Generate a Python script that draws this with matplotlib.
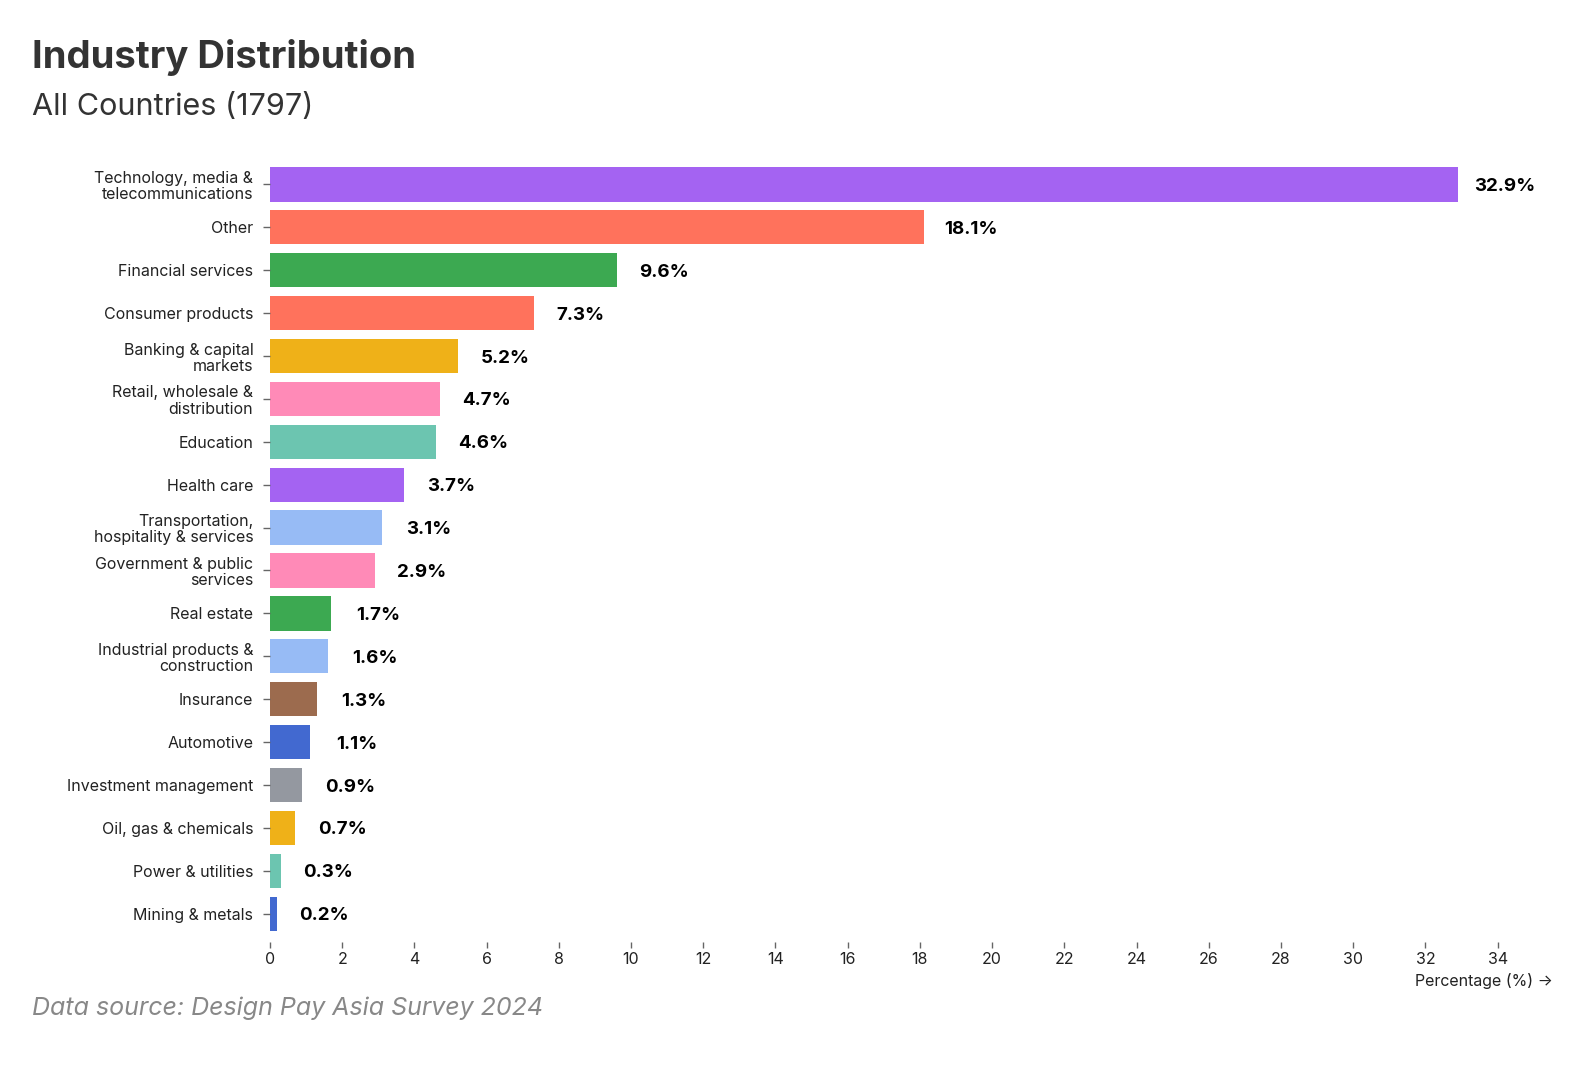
import matplotlib.pyplot as plt
from matplotlib.ticker import MultipleLocator

plt.rcParams['font.family'] = ['Inter', 'DejaVu Sans']

# data
industries = [
    'Technology, media &\ntelecommunications', 'Other', 'Financial services',
    'Consumer products', 'Banking & capital\nmarkets', 'Retail, wholesale &\ndistribution',
    'Education', 'Health care', 'Transportation,\nhospitality & services',
    'Government & public\nservices', 'Real estate', 'Industrial products &\nconstruction',
    'Insurance', 'Automotive', 'Investment management', 'Oil, gas & chemicals',
    'Power & utilities', 'Mining & metals',
]
percentages = [32.9, 18.1, 9.6, 7.3, 5.2, 4.7, 4.6, 3.7, 3.1, 2.9, 1.7, 1.6, 1.3, 1.1, 0.9, 0.7, 0.3, 0.2]
bar_colors = ['#a463f2', '#ff725c', '#3ca951', '#ff725c', '#efb118', '#ff8ab7',
              '#6cc5b0', '#a463f2', '#97bbf5', '#ff8ab7', '#3ca951', '#97bbf5',
              '#9c6b4e', '#4269d0', '#9498a0', '#efb118', '#6cc5b0', '#4269d0']

fig = plt.figure(figsize=(15.9, 10.84), dpi=100)
ax = fig.add_axes([0.1698, 0.131, 0.8069, 0.725])

pos = list(range(len(industries)))
ax.barh(pos, percentages, height=0.8, color=bar_colors)

# value labels
for y, v in zip(pos, percentages):
    ax.annotate(f'{v}%', xy=(v, y), xytext=(34, -1.5), textcoords='offset points',
                ha='center', va='center', fontsize=13.5, fontweight='bold', color='black')

ax.set_yticks(pos)
ax.set_yticklabels(industries, fontsize=11.5, color='#222222', linespacing=1.1)
ax.set_ylim(len(industries) - 1 + 0.66, -0.66)
ax.set_xlim(0, 32.9 * 1.08)
ax.xaxis.set_major_locator(MultipleLocator(2))

for s in ax.spines.values():
    s.set_visible(False)
ax.tick_params(axis='y', length=5, width=1, color='#666666', pad=7)
ax.tick_params(axis='x', length=4, width=1, color='#666666', pad=3, labelsize=11.5, labelcolor='#222222')

ax.text(1.0, -0.05, 'Percentage (%) →', transform=ax.transAxes, ha='right', va='center',
        fontsize=11.5, color='#222222')

fig.text(32 / 1590, 1 - 58 / 1084, 'Industry Distribution', fontsize=27.5, fontweight='bold',
         color='#333333', ha='left', va='center')
fig.text(32 / 1590, 1 - 107 / 1084, 'All Countries (1797)', fontsize=22,
         color='#333333', ha='left', va='center')
fig.text(32 / 1590, 1 - 1008 / 1084, 'Data source: Design Pay Asia Survey 2024', fontsize=18,
         style='italic', color='#888888', ha='left', va='center')

fig.savefig('out.png', dpi=100)
